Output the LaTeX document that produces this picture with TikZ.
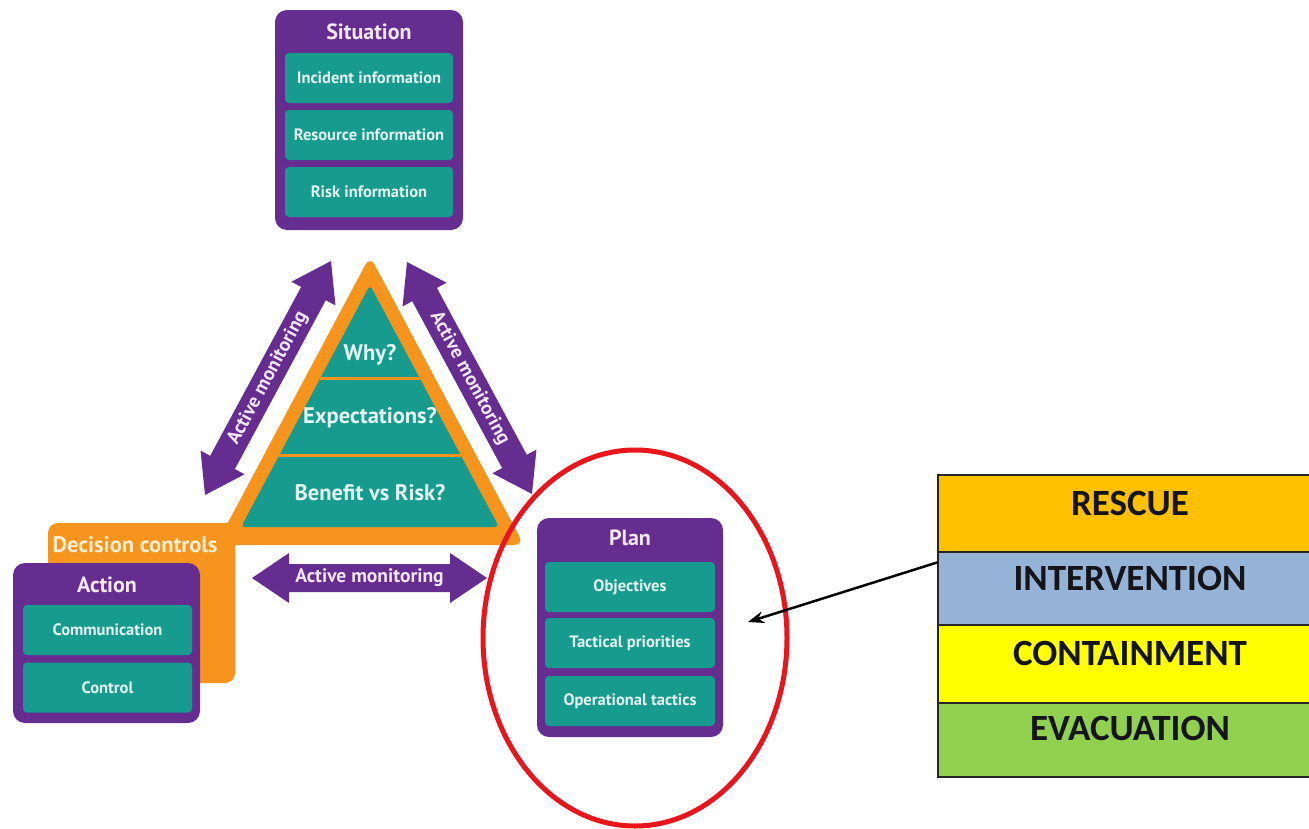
\documentclass[tikz,border=0pt]{standalone}
\usepackage{fontspec}
\newfontfamily\dfont{PT Sans}
\newfontfamily\cfont{Carlito}
\usetikzlibrary{calc,shapes.geometric,arrows.meta}
\definecolor{dpurple}{RGB}{102,45,145}
\definecolor{dteal}{RGB}{22,155,142}
\definecolor{dorange}{RGB}{247,148,30}
\definecolor{tealtext}{RGB}{228,246,242}
\definecolor{titletext}{RGB}{242,230,248}
\definecolor{creamtext}{RGB}{255,238,210}
\definecolor{ered}{RGB}{232,22,28}
\definecolor{rescuec}{RGB}{255,192,0}
\definecolor{intervc}{RGB}{149,179,215}
\definecolor{containc}{RGB}{255,255,0}
\definecolor{evacc}{RGB}{146,208,80}
\definecolor{stacktext}{RGB}{20,20,25}
\tikzset{
 panel/.style={fill=dpurple, rounded corners=12pt, inner sep=0pt},
 itembox/.style={fill=dteal, rounded corners=4pt, inner sep=0pt, text=tealtext, font=\dfont\bfseries\fontsize{16.5pt}{19pt}\selectfont},
 paneltitle/.style={text=titletext, inner sep=0pt, font=\dfont\bfseries\fontsize{22pt}{26pt}\selectfont},
 tritext/.style={text=tealtext, inner sep=0pt, font=\dfont\bfseries\fontsize{22.5pt}{26pt}\selectfont},
 dctext/.style={text=creamtext, inner sep=0pt, font=\dfont\bfseries\fontsize{22.5pt}{26pt}\selectfont},
 amtext/.style={text=titletext, inner sep=0pt, font=\dfont\bfseries\fontsize{19.5pt}{22pt}\selectfont},
 band/.style={draw=black!85, line width=1.5pt, inner sep=0pt, minimum width=384pt},
 bandtext/.style={text=stacktext, inner sep=0pt, font=\cfont\bfseries\fontsize{37pt}{44pt}\selectfont},
}
\newcommand\amarrow[3]{%
 \coordinate (#3-a) at ($(#1)!37pt!(#2)$);
 \coordinate (#3-b) at ($(#2)!37pt!(#1)$);
 \fill[dpurple] (#1) -- ($(#3-a)!25pt!90:(#2)$) -- ($(#3-a)!14pt!90:(#2)$) -- ($(#3-b)!14pt!-90:(#1)$) -- ($(#3-b)!25pt!-90:(#1)$) -- (#2) -- ($(#3-b)!25pt!90:(#1)$) -- ($(#3-b)!14pt!90:(#1)$) -- ($(#3-a)!14pt!-90:(#2)$) -- ($(#3-a)!25pt!-90:(#2)$) -- cycle;
 \path (#1) -- node[sloped, amtext] (#3) {Active monitoring} (#2);
}
\begin{document}
\begin{tikzpicture}[x=1pt,y=-1pt]
\useasboundingbox (0,0) rectangle (1309,828);
\clip (0,0) rectangle (1309,828);
\fill[white] (0,0) rectangle (1309,828);

% decision controls
\fill[dorange, rounded corners=10pt] (48,523) rectangle (235,683);
\fill[dorange] (205,523) rectangle (235,548);
\node[dctext] (dc) at (135,545) {Decision controls};

% triangle
\fill[dorange, rounded corners=10pt] (370,256) -- (524,545) -- (216,545) -- cycle;
\fill[dteal, rounded corners=4pt] (370,285) -- (499,527) -- (241,527) -- cycle;
\draw[dorange, line width=3pt] (320.4,378) -- (419.6,378);
\draw[dorange, line width=3pt] (279.4,455) -- (460.6,455);
\node[tritext] (why) at (370,355) {Why?};
\node[tritext] (expect) at (370,418) {Expectations?};
\node[tritext] (benefit) at (370,493) {Benefit vs Risk?};

% Situation
\node[panel, minimum width=188pt, minimum height=220pt] (situation) at (369,120) {};
\node[paneltitle] (sittitle) at (369,32) {Situation};
\node[itembox, minimum width=168pt, minimum height=50pt] (incident) at (369,78) {Incident information};
\node[itembox, minimum width=168pt, minimum height=50pt] (resource) at (369,135) {Resource information};
\node[itembox, minimum width=168pt, minimum height=50pt] (risk) at (369,192) {Risk information};

% Action
\node[panel, minimum width=187pt, minimum height=160pt] (action) at (106.5,643) {};
\node[paneltitle] (acttitle) at (107,585) {Action};
\node[itembox, minimum width=169pt, minimum height=50pt] (comm) at (107.5,630) {Communication};
\node[itembox, minimum width=169pt, minimum height=50pt] (control) at (107.5,687.5) {Control};

% Active monitoring arrows
\coordinate (amL-s) at (205,495); \coordinate (amL-e) at (331,261);
\amarrow{amL-s}{amL-e}{amL}
\coordinate (amR-s) at (407,262); \coordinate (amR-e) at (532,494);
\amarrow{amR-s}{amR-e}{amR}
\coordinate (amH-s) at (252,578); \coordinate (amH-e) at (487,578);
\amarrow{amH-s}{amH-e}{amH}

% red ellipse
\node[draw=ered, line width=5pt, ellipse, minimum width=304pt, minimum height=376pt, inner sep=0pt] (focus) at (635,638) {};

% Plan
\node[panel, minimum width=186pt, minimum height=219pt] (plan) at (630,627.5) {};
\node[paneltitle] (plantitle) at (630,538) {Plan};
\node[itembox, minimum width=170pt, minimum height=50pt] (objectives) at (630,587) {Objectives};
\node[itembox, minimum width=170pt, minimum height=50pt] (tactical) at (630,643) {Tactical priorities};
\node[itembox, minimum width=170pt, minimum height=50pt] (operational) at (630,701) {Operational tactics};

% stack
\node[band, fill=rescuec, minimum height=77pt] (rescue) at (1130,513.5) {};
\node[band, fill=intervc, minimum height=73pt] (interv) at (1130,588.5) {};
\node[band, fill=containc, minimum height=78pt] (contain) at (1130,664) {};
\node[band, fill=evacc, minimum height=74pt] (evac) at (1130,740) {};
\node[bandtext] (rescuet) at (1130,503) {RESCUE};
\node[bandtext] (intervt) at (1130,578) {INTERVENTION};
\node[bandtext] (containt) at (1130,653) {CONTAINMENT};
\node[bandtext] (evact) at (1130,728) {EVACUATION};

% black arrow
\coordinate (planpoint) at (748,622);
\draw[line width=2.5pt, -{Stealth[length=16pt,width=12pt]}] ($(interv.north west)!0.15!(interv.south west)$) -- (planpoint);
\end{tikzpicture}
\end{document}
